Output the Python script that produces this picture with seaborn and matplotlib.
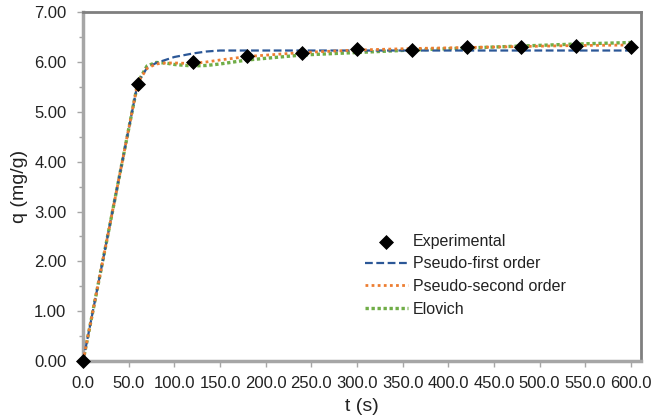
import matplotlib
matplotlib.use("Agg")
import matplotlib.pyplot as plt
from matplotlib.ticker import MultipleLocator, FormatStrFormatter
import seaborn as sns
import pandas as pd

sns.set_theme(style="white")
plt.rcParams["font.family"] = ["Liberation Sans", "DejaVu Sans"]

# Experimental kinetics data
t_exp = [0, 60, 120, 180, 240, 300, 360, 420, 480, 540, 600]
q_exp = [0.00, 5.55, 5.99, 6.12, 6.18, 6.26, 6.24, 6.30, 6.30, 6.32, 6.30]

# Model curves (smoothed fits)
t_fit = [0, 60, 70, 80, 90, 100, 120, 135, 150, 180, 240, 300, 360, 420, 480, 540, 600]
q_pfo = [0.00, 5.59, 5.88, 5.98, 6.04, 6.10, 6.17, 6.21, 6.23, 6.23, 6.23, 6.23, 6.23, 6.23, 6.23, 6.23, 6.23]
q_pso = [0.00, 5.59, 5.87, 5.96, 5.98, 5.98, 5.97, 6.00, 6.04, 6.11, 6.19, 6.24, 6.27, 6.29, 6.31, 6.33, 6.34]
q_elo = [0.00, 5.59, 5.92, 5.99, 5.98, 5.95, 5.92, 5.93, 5.96, 6.04, 6.14, 6.19, 6.24, 6.28, 6.32, 6.36, 6.39]

labels = ["Experimental", "Pseudo-first order", "Pseudo-second order", "Elovich"]
colors = ["black", "#2b5797", "#ed7d31", "#70ad47"]

fits = pd.DataFrame({"t": t_fit, "pfo": q_pfo, "pso": q_pso, "elo": q_elo})
exp = pd.DataFrame({"t": t_exp, "q": q_exp})

fig = plt.figure(figsize=(6.54, 4.18), dpi=100)
ax = fig.add_axes([0.127, 0.136, 0.853, 0.835])

sns.scatterplot(data=exp, x="t", y="q", ax=ax, marker="D", s=50, color=colors[0],
                edgecolor=colors[0], label=labels[0], zorder=5, clip_on=False)
sns.lineplot(data=fits, x="t", y="pfo", ax=ax, color=colors[1], lw=1.6,
             label=labels[1], zorder=3)
ax.lines[-1].set_dashes([3.5, 1.6])
sns.lineplot(data=fits, x="t", y="pso", ax=ax, color=colors[2], lw=2.0,
             label=labels[2], zorder=3)
ax.lines[-1].set_dashes([1, 1.2])
sns.lineplot(data=fits, x="t", y="elo", ax=ax, color=colors[3], lw=2.4,
             label=labels[3], zorder=2)
ax.lines[-1].set_dashes([1, 0.8])

ax.set_xlim(0, 611)
ax.set_ylim(0, 7)
ax.xaxis.set_major_locator(MultipleLocator(50))
ax.xaxis.set_major_formatter(FormatStrFormatter("%.1f"))
ax.yaxis.set_major_locator(MultipleLocator(1))
ax.yaxis.set_minor_locator(MultipleLocator(0.5))
ax.yaxis.set_major_formatter(FormatStrFormatter("%.2f"))

ax.tick_params(axis="both", which="both", direction="out", colors="#a6a6a6",
               labelcolor="#222222", labelsize=12, length=4, width=1)
ax.tick_params(axis="y", which="both", pad=8)
ax.tick_params(axis="x", pad=7)
ax.tick_params(axis="y", which="minor", length=3)
ax.tick_params(axis="x", bottom=True)
ax.tick_params(axis="y", which="both", left=True)

for side in ["left", "bottom"]:
    ax.spines[side].set_color("#a6a6a6")
    ax.spines[side].set_linewidth(2.5)
for side in ["top", "right"]:
    ax.spines[side].set_color("#7f7f7f")
    ax.spines[side].set_linewidth(2.0)

ax.set_xlabel("t (s)", fontsize=14, color="#222222", labelpad=5)
ax.set_ylabel("q (mg/g)", fontsize=14, color="#222222", labelpad=4)

leg = ax.legend(loc="upper left", bbox_to_anchor=(0.505, 0.365), frameon=False,
                fontsize=11.5, handlelength=2.7, handletextpad=0.3,
                labelspacing=0.48, borderaxespad=0, borderpad=0)
for txt in leg.get_texts():
    txt.set_color("#222222")

fig.savefig("out.png", dpi=100)
